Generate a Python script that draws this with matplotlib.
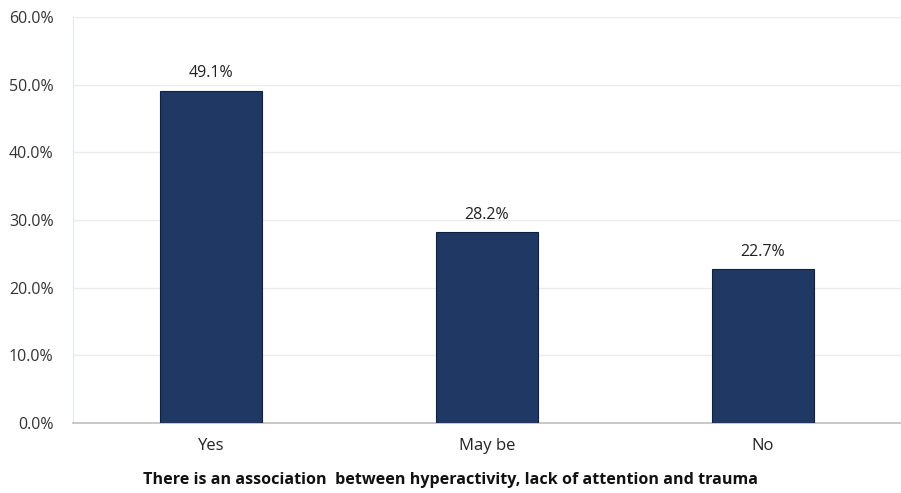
import matplotlib
matplotlib.use("Agg")
import matplotlib.pyplot as plt
from matplotlib.ticker import FuncFormatter

categories = ["Yes", "May be", "No"]
values = [49.1, 28.2, 22.7]
yticks = [0, 10, 20, 30, 40, 50, 60]

plt.rcParams['font.family'] = ['Open Sans', 'DejaVu Sans']

fig = plt.figure(figsize=(9.01, 4.93), dpi=100)
ax = fig.add_axes([0.081, 0.142, 0.919, 0.8235])

x = range(len(categories))
bars = ax.bar(x, values, width=0.37, color="#203864", edgecolor="#10203f", linewidth=0.8, zorder=3)
for xi, v in zip(x, values):
    ax.text(xi, v + 1.4, f"{v:.1f}%", ha="center", va="bottom", fontsize=11.5, color="#222222")

ax.set_xlim(-0.5, 2.5)
ax.set_ylim(0, 60)
ax.set_yticks(yticks)
ax.yaxis.set_major_formatter(FuncFormatter(lambda v, p: f"{v:.1f}%"))
ax.set_xticks(list(x))
ax.set_xticklabels(categories)
ax.tick_params(axis="y", length=0, labelsize=11.5, colors="#333333", pad=14)
ax.tick_params(axis="x", length=0, labelsize=12, colors="#222222", pad=11)
ax.grid(axis="y", color="#ebebeb", linewidth=1, zorder=0)
for s in ["top", "right"]:
    ax.spines[s].set_visible(False)
ax.spines["left"].set_color("#e4e8f0")
ax.spines["bottom"].set_color("#bfbfbf")
ax.spines["bottom"].set_linewidth(1.2)

fig.text(0.5, 0.027, "There is an association  between hyperactivity, lack of attention and trauma",
         ha="center", va="center", fontsize=11.6, fontweight="bold", color="#111111")

fig.savefig("out.png", dpi=100)
